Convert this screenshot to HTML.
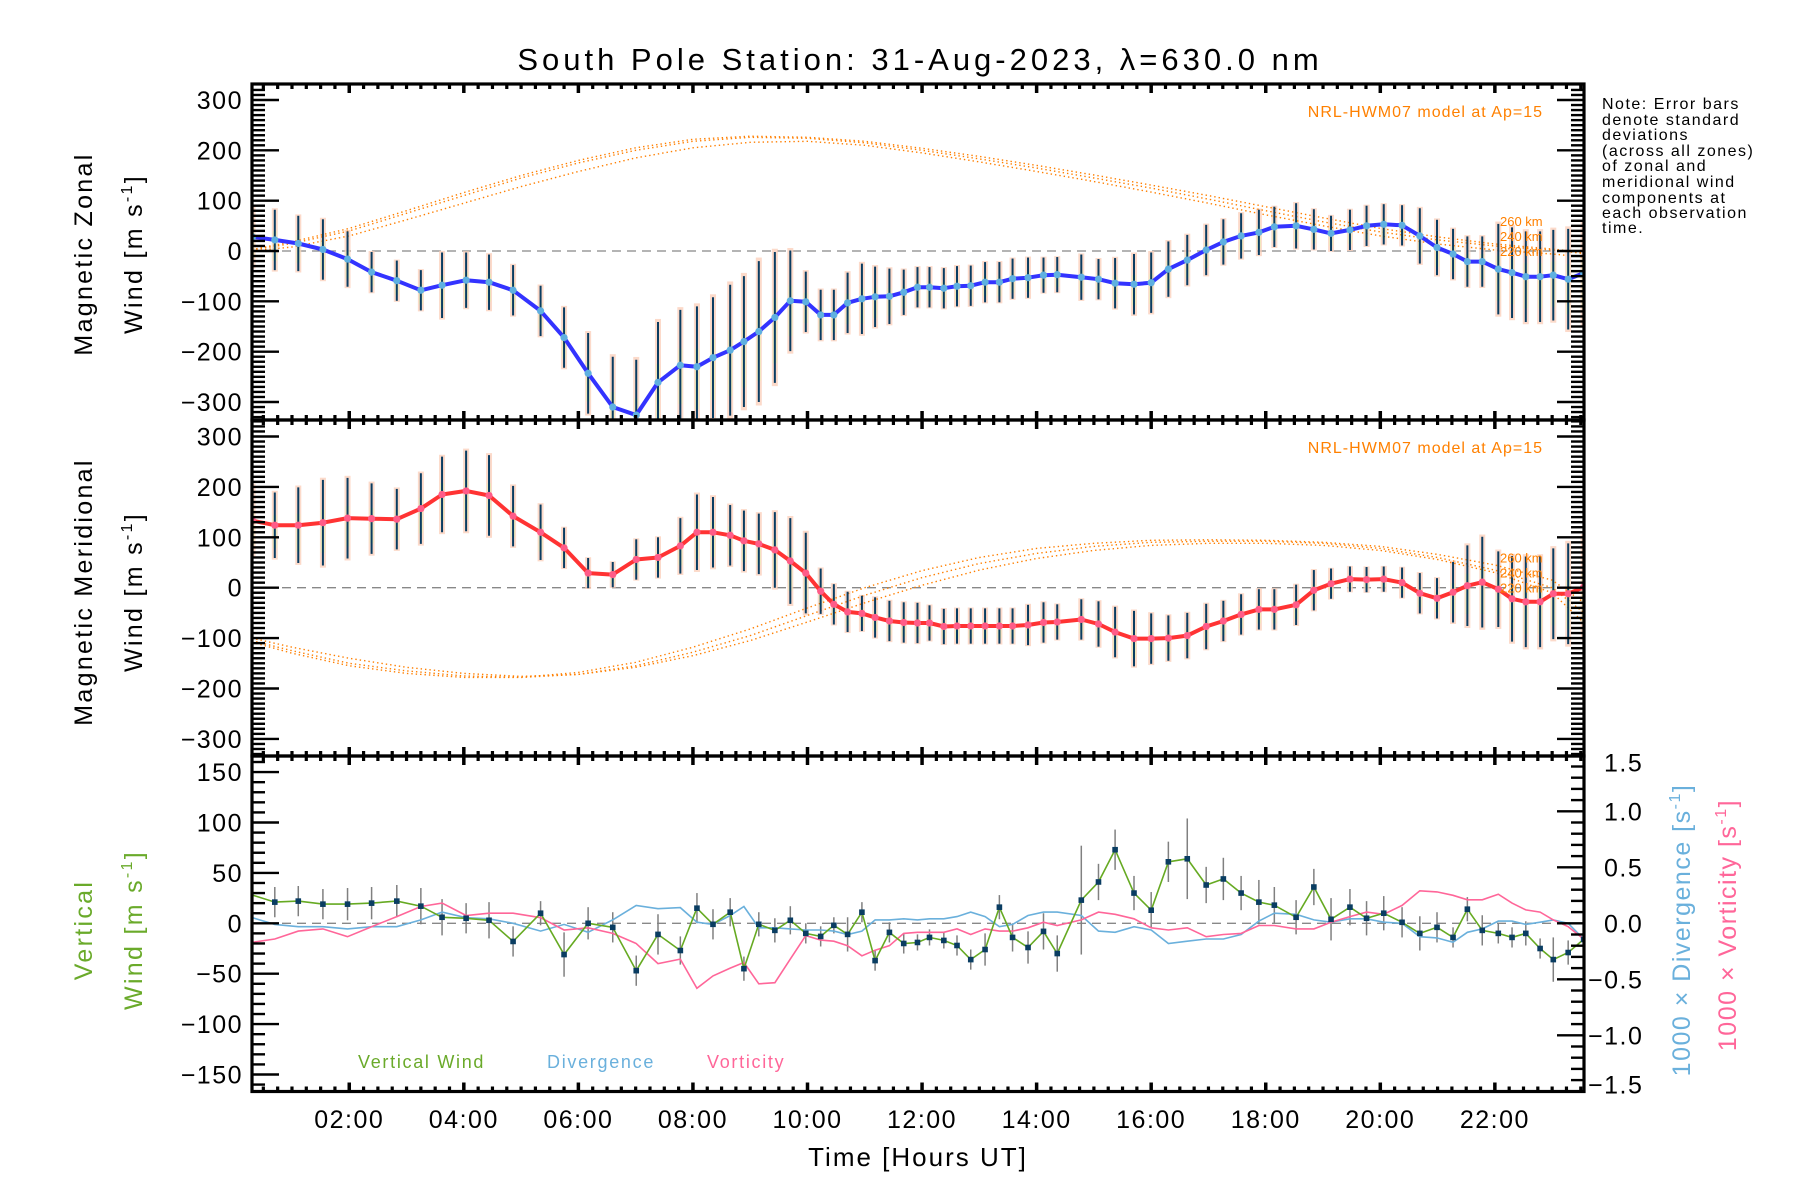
<!DOCTYPE html>
<html><head><meta charset="utf-8"><title>South Pole Station winds</title>
<style>
html,body{margin:0;padding:0;background:#fff;}
svg{display:block;font-family:"Liberation Sans","DejaVu Sans",sans-serif;}
</style></head>
<body>
<svg id="chart" xmlns="http://www.w3.org/2000/svg" width="1800" height="1200" viewBox="0 0 1800 1200">
<rect x="0" y="0" width="1800" height="1200" fill="#fff"/>
<text x="920" y="70" font-size="31" letter-spacing="4" text-anchor="middle">South Pole Station: 31-Aug-2023, λ=630.0 nm</text>
<g id="layer"></g>
<g font-size="16" letter-spacing="1.5" fill="#000">
<text x="1602" y="109">Note: Error bars</text>
<text x="1602" y="125">denote standard</text>
<text x="1602" y="140">deviations</text>
<text x="1602" y="156">(across all zones)</text>
<text x="1602" y="171">of zonal and</text>
<text x="1602" y="187">meridional wind</text>
<text x="1602" y="203">components at</text>
<text x="1602" y="218">each observation</text>
<text x="1602" y="233">time.</text>
</g>
<g letter-spacing="2.3">
<text x="92" y="254" font-size="25" text-anchor="middle" transform="rotate(-90 92 254)">Magnetic Zonal</text>
<text x="142" y="254" font-size="25" text-anchor="middle" transform="rotate(-90 142 254)">Wind [m s<tspan font-size="16" dy="-10">-1</tspan><tspan dy="10">]</tspan></text>
<text x="92" y="592" font-size="25" text-anchor="middle" transform="rotate(-90 92 592)">Magnetic Meridional</text>
<text x="142" y="592" font-size="25" text-anchor="middle" transform="rotate(-90 142 592)">Wind [m s<tspan font-size="16" dy="-10">-1</tspan><tspan dy="10">]</tspan></text>
<text x="92" y="930" font-size="25" fill="#6aaa2a" text-anchor="middle" transform="rotate(-90 92 930)">Vertical</text>
<text x="142" y="930" font-size="25" fill="#6aaa2a" text-anchor="middle" transform="rotate(-90 142 930)">Wind [m s<tspan font-size="16" dy="-10">-1</tspan><tspan dy="10">]</tspan></text>
</g>
<g letter-spacing="1.5">
<text x="1690" y="930" font-size="25" fill="#6ab0dc" text-anchor="middle" transform="rotate(-90 1690 930)">1000 × Divergence [s<tspan font-size="16" dy="-10">-1</tspan><tspan dy="10">]</tspan></text>
<text x="1736" y="925" font-size="25" fill="#ff6699" text-anchor="middle" transform="rotate(-90 1736 925)">1000 × Vorticity [s<tspan font-size="16" dy="-10">-1</tspan><tspan dy="10">]</tspan></text>
</g>
<text x="918" y="1166" font-size="26" letter-spacing="2" text-anchor="middle">Time [Hours UT]</text>
<g letter-spacing="1.7">
<text x="358" y="1068" font-size="18" fill="#6aaa2a">Vertical Wind</text>
<text x="547" y="1068" font-size="18" fill="#6ab0dc">Divergence</text>
<text x="707" y="1068" font-size="18" fill="#ff6699">Vorticity</text>
</g>
</svg>
<script>
// ---- data ----
const times = [0.31,0.70,1.11,1.54,1.97,2.39,2.83,3.25,3.62,4.04,4.44,4.86,5.34,5.75,6.17,6.60,7.01,7.39,7.78,8.07,8.35,8.65,8.89,9.15,9.43,9.70,9.97,10.23,10.46,10.70,10.95,11.18,11.43,11.68,11.92,12.13,12.38,12.61,12.85,13.10,13.35,13.58,13.85,14.12,14.36,14.78,15.08,15.37,15.70,16.00,16.30,16.63,16.96,17.26,17.57,17.88,18.15,18.53,18.84,19.14,19.47,19.76,20.06,20.38,20.69,20.99,21.27,21.52,21.78,22.06,22.30,22.54,22.79,23.02,23.28,23.55];
const zonal = [28,22,15,3,-16,-42,-59,-78,-68,-58,-62,-78,-119,-172,-243,-310,-326,-261,-227,-230,-212,-197,-180,-160,-132,-99,-101,-127,-127,-103,-95,-91,-90,-82,-72,-72,-74,-70,-69,-62,-62,-55,-53,-48,-47,-52,-56,-64,-66,-63,-36,-18,2,18,30,37,48,50,43,35,42,50,53,51,30,7,-6,-21,-21,-36,-43,-51,-51,-48,-56,-44];
const zonalErr = [60,60,55,60,55,40,40,40,65,55,55,50,50,60,80,100,110,120,110,120,120,130,130,140,130,100,60,50,50,60,70,60,55,45,40,40,40,40,40,40,40,40,40,35,35,45,40,50,60,60,55,50,50,45,45,45,40,45,40,35,40,40,40,40,55,55,50,50,50,90,90,90,90,90,100,100];
const merid = [133,124,124,129,138,137,136,157,185,192,183,142,110,79,29,26,56,60,83,110,110,104,93,87,75,53,29,-7,-33,-48,-51,-59,-66,-69,-70,-70,-77,-76,-76,-76,-76,-76,-74,-69,-68,-63,-72,-88,-101,-101,-100,-95,-77,-66,-53,-43,-43,-34,-5,8,17,16,17,10,-11,-21,-9,4,11,-3,-22,-28,-28,-12,-12,1];
const meridErr = [70,65,75,85,80,70,60,70,75,80,80,60,55,40,30,25,40,40,55,75,70,60,60,60,75,85,80,45,40,40,35,40,40,40,40,35,35,35,35,35,35,35,40,40,35,40,45,50,55,50,45,45,45,40,40,40,40,40,40,30,25,25,25,30,40,40,60,80,90,75,85,90,90,90,100,100];
const vwind = [28,21,22,19,19,20,22,17,6,5,3,-18,10,-31,0,-4,-47,-11,-27,15,-1,11,-45,-1,-7,3,-10,-13,-2,-11,11,-37,-9,-20,-19,-14,-17,-22,-36,-26,16,-14,-24,-8,-30,23,41,73,30,13,61,64,38,44,30,21,18,6,36,4,16,5,10,1,-10,-4,-14,14,-7,-10,-14,-10,-25,-36,-29,-16];
const vwindErr = [0,15,15,15,16,16,16,18,18,15,18,15,12,22,16,15,15,20,14,15,15,14,12,12,12,14,10,10,8,17,10,10,10,10,8,8,8,10,10,16,12,14,16,18,18,54,18,20,17,18,20,40,18,21,17,22,18,17,18,21,18,17,17,15,17,15,10,12,15,10,10,12,10,22,12,12];
const diverg = [0.05,-0.01,-0.03,-0.03,-0.05,-0.03,-0.03,0.03,0.10,0.05,0.04,0.00,-0.07,-0.01,-0.08,0.03,0.16,0.13,0.14,0.01,-0.01,0.07,0.15,-0.04,-0.04,-0.05,-0.06,-0.06,-0.07,-0.10,-0.07,0.03,0.03,0.04,0.03,0.04,0.04,0.06,0.10,0.06,-0.03,-0.01,0.07,0.10,0.10,0.07,-0.07,-0.08,-0.03,-0.06,-0.18,-0.16,-0.14,-0.14,-0.10,0.02,0.09,0.08,0.03,0.01,0.04,0.04,0.01,0.00,-0.12,-0.13,-0.17,-0.08,-0.05,0.02,0.02,-0.01,0.01,0.03,0.00,-0.14];
const vortic = [-0.17,-0.14,-0.07,-0.05,-0.12,-0.03,0.06,0.15,0.18,0.07,0.09,0.09,0.05,-0.06,-0.04,-0.09,-0.18,-0.36,-0.32,-0.58,-0.47,-0.40,-0.35,-0.54,-0.53,-0.32,-0.11,-0.15,-0.16,-0.20,-0.29,-0.24,-0.20,-0.09,-0.08,-0.08,-0.08,-0.05,-0.10,-0.05,-0.07,-0.07,-0.04,0.01,-0.02,0.03,0.10,0.08,0.04,-0.04,-0.06,-0.04,-0.12,-0.10,-0.09,-0.02,-0.02,-0.05,-0.05,0.01,0.06,0.10,0.08,0.16,0.29,0.28,0.25,0.21,0.21,0.26,0.18,0.12,0.10,0.03,-0.03,-0.14];
const modelTimes = [0.3,1,2,3,4,5,6,7,8,9,10,11,12,13,14,15,16,17,18,19,20,21,22,23,23.56];
const zonalModel220 = [0,8,30,62,95,128,158,185,205,216,218,210,195,177,158,138,117,95,72,50,30,14,2,-6,-12];
const zonalModel240 = [2,15,40,75,110,145,175,200,218,226,224,215,200,183,165,145,125,103,80,58,38,22,10,2,-5];
const zonalModel260 = [3,18,45,80,116,150,180,205,222,228,226,218,204,188,170,151,131,110,88,66,45,28,14,4,-3];
const meridModel220 = [-100,-118,-140,-158,-170,-176,-172,-158,-135,-105,-68,-30,5,35,58,74,84,88,88,84,74,56,30,-10,-70];
const meridModel240 = [-105,-125,-150,-165,-175,-178,-172,-155,-128,-95,-55,-15,20,48,68,82,90,92,92,88,78,60,35,0,-50];
const meridModel260 = [-108,-130,-155,-170,-178,-178,-168,-148,-118,-82,-40,0,34,60,78,88,94,95,94,90,82,66,45,15,-30];
const zonalTicks = [-300,-200,-100,0,100,200,300];
const vertTicks = [-150,-100,-50,0,50,100,150];
const rightTicks = [-1.5,-1.0,-0.5,0.0,0.5,1.0,1.5];
const hourTicks = [2,4,6,8,10,12,14,16,18,20,22];

// ---- geometry ----
const NS='http://www.w3.org/2000/svg';
const layer=document.getElementById('layer');
const X0=252, X1=1584;
const xS=t=>234.7+57.28*t;
const P=[{top:84,bot:420,y0:251,k:0.5033},{top:420,bot:756,y0:587.7,k:0.504},{top:756,bot:1091.5,y0:923.3,k:1.008}];
const yS=(p,v)=>p.y0-v*p.k;
const yR=v=>923.3-v*112;
function el(tag,attrs,parent){const e=document.createElementNS(NS,tag);for(const a in attrs)e.setAttribute(a,attrs[a]);(parent||layer).appendChild(e);return e;}
function pathOf(xs,ys){return xs.map((x,i)=>(i?'L':'M')+x.toFixed(1)+' '+ys[i].toFixed(1)).join(' ');}

const defs=el('defs',{});
P.forEach((p,i)=>{const c=el('clipPath',{id:'clip'+i},defs);el('rect',{x:X0,y:p.top,width:X1-X0,height:p.bot-p.top},c);});

function windPanel(pi,vals,errs,lineColor,dotColor,mA,mB,mC,name){
  const p=P[pi];
  const g=el('g',{'clip-path':'url(#clip'+pi+')'});
  
  
  const z=el('line',{x1:X0,x2:X1,y1:yS(p,0),y2:yS(p,0),stroke:'#888','stroke-width':1.3,'stroke-dasharray':'9,6'},g);
  
  
  times.forEach((t,i)=>{
    const e=errs[i]||50;const x=xS(t);
    const r=el('rect',{x:x-3,y:yS(p,vals[i]+e*1.05),width:6,height:2.1*e*p.k,fill:'#fbcdb8',opacity:0.75},g);
    
    
    const r2=el('rect',{x:x-2,y:yS(p,vals[i]+e*0.3),width:4,height:1.0*e*p.k,fill:'#e2f3b0',opacity:0.6},g);
    
    
  });
  [mA,mB,mC].forEach((m,j)=>{
    const c=el('path',{d:pathOf(modelTimes.map(xS),m.map(v=>yS(p,v))),fill:'none',stroke:'#ff7f00','stroke-width':1.4,'stroke-dasharray':'1.4,3'},g);
    
    
  });
  times.forEach((t,i)=>{
    const e=errs[i]||50;const x=xS(t);
    const b=el('line',{x1:x,x2:x,y1:yS(p,vals[i]+e),y2:yS(p,vals[i]-e),stroke:'#0a3d62','stroke-width':2},g);
    
    
  });
  const ln=el('path',{d:pathOf(times.map(xS),vals.map(v=>yS(p,v))),fill:'none',stroke:lineColor,'stroke-width':4,'stroke-linejoin':'round'},g);
  
  
  times.forEach((t,i)=>{
    const d=el('circle',{cx:xS(t),cy:yS(p,vals[i]),r:3.6,fill:dotColor},g);
    
    
  });
  const lbl=el('text',{x:1543,y:p.top+33,'font-size':16,'letter-spacing':1,fill:'#ff8000','text-anchor':'end'});
  lbl.textContent='NRL-HWM07 model at Ap=15';
  
  
  ['260 km','240 km','220 km'].forEach((s,j)=>{
    const tl=el('text',{x:1500,y:p.y0-25+j*15,'font-size':13,fill:'#ff8000'});
    tl.textContent=s;
    
    
  });
}
windPanel(0,zonal,zonalErr,'#3333ff','#5fb0e0',zonalModel220,zonalModel240,zonalModel260,'zonal');
windPanel(1,merid,meridErr,'#ff3333','#ff5c88',meridModel220,meridModel240,meridModel260,'meridional');

(function(){
  const p=P[2];
  const g=el('g',{'clip-path':'url(#clip2)'});
  
  
  const z=el('line',{x1:X0,x2:X1,y1:p.y0,y2:p.y0,stroke:'#888','stroke-width':1.3,'stroke-dasharray':'9,6'},g);
  
  
  times.forEach((t,i)=>{ if(!vwindErr[i])return;
    const b=el('line',{x1:xS(t),x2:xS(t),y1:yS(p,vwind[i]+vwindErr[i]),y2:yS(p,vwind[i]-vwindErr[i]),stroke:'#808080','stroke-width':1.5},g);
    
    
  });
  const dv=el('path',{d:pathOf(times.map(xS),diverg.map(yR)),fill:'none',stroke:'#6ab0dc','stroke-width':1.6},g);
  
  
  const vo=el('path',{d:pathOf(times.map(xS),vortic.map(yR)),fill:'none',stroke:'#ff6699','stroke-width':1.6},g);
  
  
  const vw=el('path',{d:pathOf(times.map(xS),vwind.map(v=>yS(p,v))),fill:'none',stroke:'#66aa22','stroke-width':1.6},g);
  
  
  times.forEach((t,i)=>{ if(i===0)return;
    const s=el('rect',{x:xS(t)-2.8,y:yS(p,vwind[i])-2.8,width:5.6,height:5.6,fill:'#0a3d62'},g);
    
    
  });
})();

const ax=el('g',{stroke:'#000',fill:'none'});


P.forEach((p,pi)=>{
  const f=el('rect',{x:X0,y:p.top,width:X1-X0,height:p.bot-p.top,'stroke-width':3.2},ax);
  
  
  for(let m=0;m<=24*4;m++){const t=m/4;const x=xS(t);if(x<X0+2||x>X1-2)continue;
    const major=(m%8===0);const L=major?9:5;
    el('line',{x1:x,x2:x,y1:p.bot,y2:p.bot-L,'stroke-width':major?3.5:3.2},ax);
    el('line',{x1:x,x2:x,y1:p.top,y2:p.top+L,'stroke-width':major?3.5:3.2},ax);
  }
  if(pi<2){
    for(let v=-330;v<=330;v+=10){const y=yS(p,v);if(y<p.top+1||y>p.bot-1)continue;const major=(v%100===0);const L=major?27:13;
      el('line',{x1:X0,x2:X0+L,y1:y,y2:y,'stroke-width':2.4},ax);
      el('line',{x1:X1,x2:X1-L,y1:y,y2:y,'stroke-width':2.4},ax);}
  } else {
    for(let v=-160;v<=160;v+=10){const y=yS(p,v);if(y<p.top+1||y>p.bot-1)continue;const major=(v%50===0);const L=major?27:13;
      el('line',{x1:X0,x2:X0+L,y1:y,y2:y,'stroke-width':2.4},ax);}
    for(let j=-15;j<=15;j++){const v=j/10;const y=yR(v);if(y<p.top+1||y>p.bot-1)continue;const major=(j%5===0);const L=major?27:13;
      el('line',{x1:X1,x2:X1-L,y1:y,y2:y,'stroke-width':2.4},ax);}
  }
});
function txt(x,y,s,anchor,name){const t=el('text',{x:x,y:y,'font-size':25,'letter-spacing':1.5,'text-anchor':anchor,fill:'#000'});t.textContent=s;return t;}
[0,1].forEach(pi=>zonalTicks.forEach(v=>txt(243,yS(P[pi],v)+9,(v<0?'\u2212'+(-v):String(v)),'end',pi?'meridional-tick-label':'zonal-tick-label')));
vertTicks.forEach(v=>txt(243,yS(P[2],v)+9,(v<0?'\u2212'+(-v):String(v)),'end','vertical-tick-label'));
rightTicks.forEach(v=>{let y=yR(v)+9; if(v>=1.5)y+=7; if(v<=-1.5)y-=7; txt(v<0?1588:1604,y,(v<0?'\u2212':'')+Math.abs(v).toFixed(1),'start','right-tick-label');});
hourTicks.forEach(h=>txt(xS(h),1128,(h<10?'0':'')+h+':00','middle','x-tick-label'));
</script>
</body></html>
